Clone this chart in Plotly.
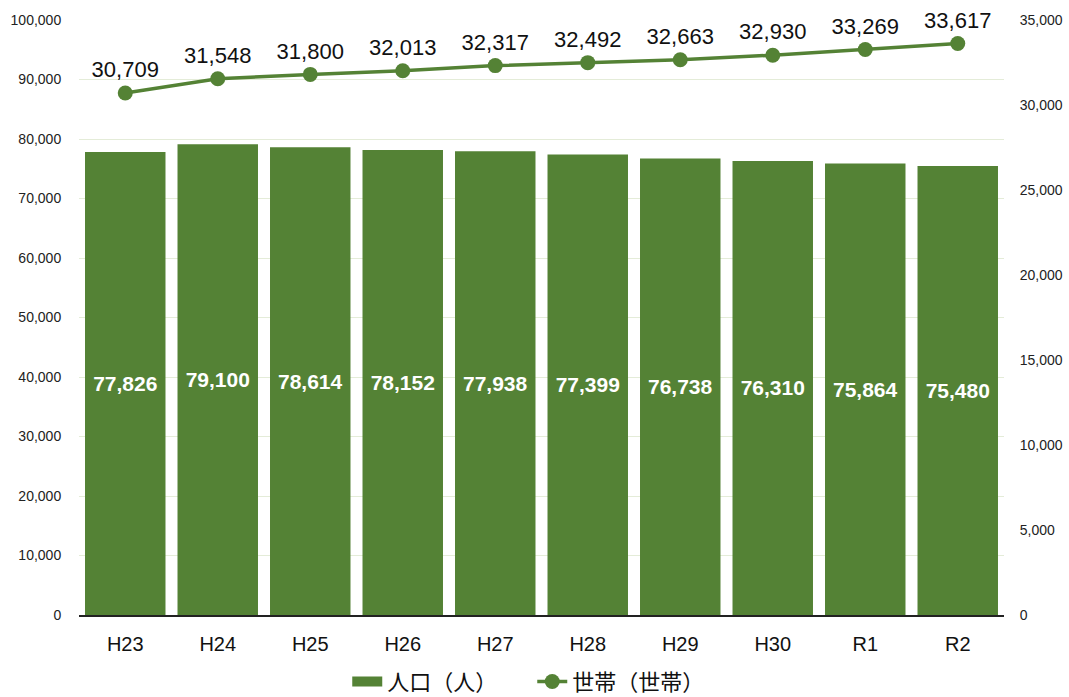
import plotly.graph_objects as go

years = ["H23", "H24", "H25", "H26", "H27", "H28", "H29", "H30", "R1", "R2"]
population = [77826, 79100, 78614, 78152, 77938, 77399, 76738, 76310, 75864, 75480]
households = [30709, 31548, 31800, 32013, 32317, 32492, 32663, 32930, 33269, 33617]

GREEN = "#548235"
FONT = "Liberation Sans, Arial, Noto Sans CJK JP, sans-serif"

fig = go.Figure()

fig.add_trace(go.Bar(
    x=years, y=population, name="人口（人）",
    marker=dict(color=GREEN, line=dict(width=0)),
    text=[f"{v:,}" for v in population],
    textposition="inside", insidetextanchor="middle",
    textangle=0,
    textfont=dict(color="white", size=21, family=FONT, weight="bold"),
    showlegend=False,
    yaxis="y",
))

# legend entry for the bars, drawn as a wide block
fig.add_trace(go.Scatter(
    x=[None], y=[None], name="人口（人）", mode="lines",
    line=dict(color=GREEN, width=11),
    showlegend=True, yaxis="y",
))

fig.add_trace(go.Scatter(
    x=years, y=households, name="世帯（世帯）",
    mode="lines+markers+text",
    line=dict(color=GREEN, width=3.5),
    marker=dict(color=GREEN, size=15),
    text=[f"{v:,}" for v in households],
    textposition="top center",
    textfont=dict(color="#111111", size=22, family=FONT),
    cliponaxis=False,
    yaxis="y2",
))

fig.update_layout(
    width=1069, height=697,
    margin=dict(l=79, r=65, t=20, b=82, autoexpand=False),
    plot_bgcolor="white", paper_bgcolor="white",
    font=dict(family=FONT, color="#222222"),
    bargap=0.13,
    showlegend=True,
    legend=dict(
        orientation="h", x=0.49, xanchor="center", y=-0.112, yanchor="middle",
        font=dict(size=22, family="Noto Sans CJK JP, Liberation Sans, sans-serif", color="#111111"),
        itemwidth=30, traceorder="normal",
        entrywidth=140, entrywidthmode="pixels",
    ),
    xaxis=dict(
        range=[-0.5, len(years) - 0.5],
        tickfont=dict(size=20, color="#111111"),
        showline=True, linecolor="#222222", linewidth=2,
        ticks="outside", ticklen=10, tickcolor="rgba(0,0,0,0)",
        showgrid=False,
    ),
    yaxis=dict(
        range=[0, 100000], tick0=0, dtick=10000,
        tickformat=",d",
        tickfont=dict(size=14, color="#222222"),
        gridcolor="#e4ecd8", gridwidth=1,
        zeroline=False, showline=False,
        ticks="outside", ticklen=14, tickcolor="rgba(0,0,0,0)",
    ),
    yaxis2=dict(
        range=[0, 35000], tick0=0, dtick=5000,
        tickformat=",d",
        tickfont=dict(size=14, color="#222222"),
        overlaying="y", side="right",
        showgrid=False, zeroline=False, showline=False,
        ticks="outside", ticklen=12, tickcolor="rgba(0,0,0,0)",
    ),
)

fig.write_html("out.html")
